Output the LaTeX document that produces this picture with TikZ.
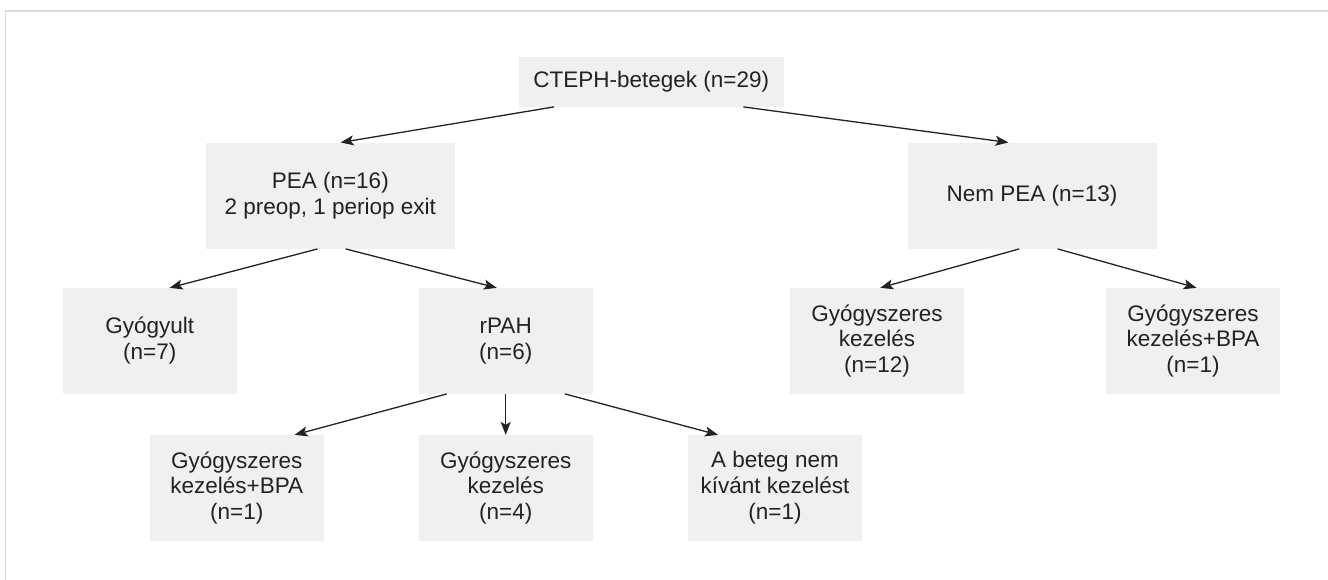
\documentclass[tikz,border=0pt]{standalone}
\usepackage{fontspec}
\setmainfont{Liberation Sans}
\usetikzlibrary{arrows.meta}
\definecolor{boxfill}{HTML}{F0F0F0}
\definecolor{txt}{HTML}{222222}
\definecolor{frameline}{HTML}{DCDCDC}
\begin{document}
\begin{tikzpicture}[x=1pt,y=-1pt,
  box/.style={fill=boxfill, draw=none, inner sep=0pt, align=center, text=txt,
    font=\fontsize{22.5pt}{25.8pt}\selectfont},
  smallbox/.style={box, minimum width=173.6pt, minimum height=105.7pt},
  arr/.style={draw=txt, line width=1.3pt, -{Stealth[length=13pt,width=10pt,inset=3pt]}}]
\useasboundingbox (0,0) rectangle (1328,580);
\draw[frameline, line width=1.2pt] (5.7,580) -- (5.7,11) -- (1328,11);

\node[box, minimum width=265.5pt, minimum height=50pt] (root) at (651.3,81.7) {CTEPH-betegek (n=29)};
\node[box, minimum width=248.6pt, minimum height=106pt] (pea) at (330.3,195.7) {PEA (n=16)\\2 preop, 1 periop exit};
\node[box, minimum width=249pt, minimum height=106pt] (nem) at (1032,195.7) {Nem PEA (n=13)};
\node[smallbox] (gyo) at (149.8,340.9) {Gyógyult\\(n=7)};
\node[smallbox] (rpah) at (505.7,340.9) {rPAH\\(n=6)};
\node[smallbox] (gy12) at (877,340.9) {Gyógyszeres\\kezelés\\(n=12)};
\node[smallbox] (gybpa2) at (1193,340.9) {Gyógyszeres\\kezelés+BPA\\(n=1)};
\node[smallbox] (bpa1) at (236.8,487.9) {Gyógyszeres\\kezelés+BPA\\(n=1)};
\node[smallbox] (gy4) at (505.7,487.9) {Gyógyszeres\\kezelés\\(n=4)};
\node[smallbox] (abeteg) at (775,487.9) {A beteg nem\\kívánt kezelést\\(n=1)};

\draw[arr] ([xshift=-97.3pt]root.south) -- ([xshift=10.3pt]pea.north);
\draw[arr] ([xshift=92pt]root.south) -- ([xshift=-23.6pt]nem.north);
\draw[arr] ([xshift=-12.7pt]pea.south) -- ([xshift=19.8pt]gyo.north);
\draw[arr] ([xshift=15.3pt]pea.south) -- ([xshift=-8.9pt]rpah.north);
\draw[arr] ([xshift=-12.8pt]nem.south) -- ([xshift=3.2pt]gy12.north);
\draw[arr] ([xshift=25.6pt]nem.south) -- ([xshift=3.6pt]gybpa2.north);
\draw[arr] ([xshift=-59pt]rpah.south) -- ([xshift=57.8pt]bpa1.north);
\draw[arr] (rpah.south) -- (gy4.north);
\draw[arr] ([xshift=59.3pt]rpah.south) -- ([xshift=-57pt]abeteg.north);
\end{tikzpicture}
\end{document}
